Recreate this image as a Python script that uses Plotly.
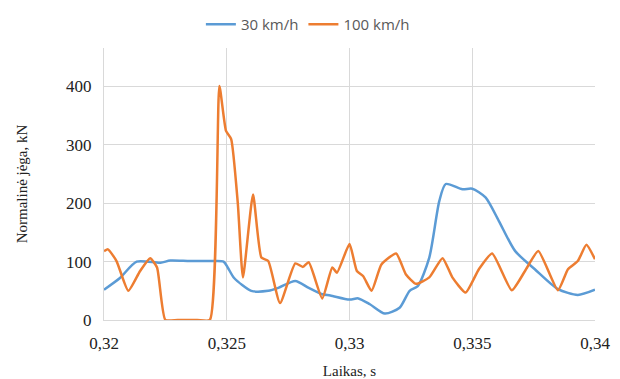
import plotly.graph_objects as go

t_30 = [0.32, 0.32065, 0.32133, 0.3223, 0.3227, 0.3235, 0.32440, 0.32487, 0.32504, 0.3253, 0.3260,
        0.32669, 0.32710, 0.32779, 0.32834, 0.32889, 0.32922, 0.33, 0.33036, 0.33083, 0.33144,
        0.33204, 0.33245, 0.33278, 0.33325, 0.33366, 0.33392, 0.33460, 0.335, 0.33554, 0.33608,
        0.33675, 0.33755, 0.33849, 0.3393, 0.34]
v_30 = [52, 72, 100, 98, 102, 101, 101, 100, 90, 72, 50,
        50, 55, 67, 55, 44, 42, 35, 37, 27, 11,
        21, 50, 58, 107, 204, 233, 224, 225, 210, 170,
        118, 87, 53, 43, 52]

t_100 = [0.32, 0.32016, 0.32051, 0.32099, 0.32147, 0.32188, 0.32216, 0.3225, 0.3230, 0.3238, 0.32431,
         0.3247, 0.32497, 0.32518, 0.32545, 0.32566, 0.32607, 0.32641, 0.32669, 0.32717, 0.32779,
         0.32810, 0.32834, 0.32889, 0.3293, 0.32949, 0.33, 0.3303, 0.33056, 0.3309, 0.3313,
         0.3319, 0.3323, 0.33271, 0.33325, 0.33379, 0.33419, 0.33473, 0.33527, 0.33581, 0.33661,
         0.33715, 0.33769, 0.33849, 0.3389, 0.3393, 0.33965, 0.34]
v_100 = [118, 121, 101, 50, 84, 106, 90, 0, 0, 0, 0,
         401, 324, 310, 200, 73, 215, 107, 101, 29, 97,
         91, 99, 37, 90, 81, 130, 84, 75, 50, 95,
         114, 78, 62, 73, 106, 73, 47, 87, 114, 51,
         84, 118, 51, 87, 101, 129, 104]

x_tickvals = [0.32, 0.325, 0.33, 0.335, 0.34]
x_ticktext = ["0,32", "0,325", "0,33", "0,335", "0,34"]
y_tickvals = [0, 100, 200, 300, 400]

fig = go.Figure()
fig.add_trace(go.Scatter(x=t_30, y=v_30, mode="lines", name="30 km/h",
                         line=dict(color="#5b9bd5", width=2.5, shape="spline", smoothing=0.7)))
fig.add_trace(go.Scatter(x=t_100, y=v_100, mode="lines", name="100 km/h",
                         line=dict(color="#ed7d31", width=2.5, shape="spline", smoothing=0.5)))

serif = "Liberation Serif, Times New Roman, serif"
fig.update_layout(
    width=612, height=371,
    margin=dict(l=96, r=25, t=40, b=59, autoexpand=False),
    plot_bgcolor="white", paper_bgcolor="white",
    showlegend=True,
    legend=dict(orientation="h", xref="container", yref="container", x=0.49, y=1.0,
                xanchor="center", yanchor="top",
                font=dict(family="Open Sans, DejaVu Sans, sans-serif", size=15, color="#595959")),
    xaxis=dict(range=[0.32, 0.34], tickvals=x_tickvals, ticktext=x_ticktext,
               showgrid=True, gridcolor="#d9d9d9", gridwidth=1, zeroline=False,
               showline=True, linecolor="#d9d9d9", ticks="", automargin=False,
               ticklabelstandoff=8,
               tickfont=dict(family=serif, size=17, color="#222"),
               title=dict(text="Laikas, s", font=dict(family=serif, size=15, color="#222"), standoff=17)),
    yaxis=dict(range=[0, 466], tickvals=y_tickvals, showgrid=True, gridcolor="#d9d9d9",
               gridwidth=1, zeroline=False, showline=True, linecolor="#d9d9d9", ticks="",
               automargin=False, ticklabelstandoff=8,
               tickfont=dict(family=serif, size=17, color="#222"),
               title=dict(text="Normalinė jėga, kN", font=dict(family=serif, size=15, color="#222"), standoff=34)),
)

fig.write_html("out.html")
